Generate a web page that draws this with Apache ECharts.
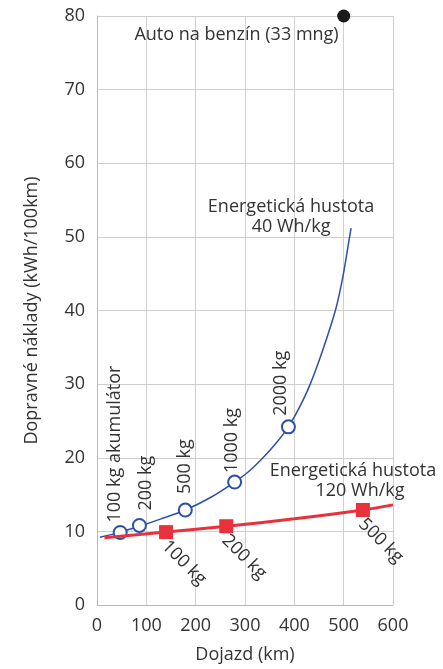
<!DOCTYPE html>
<html>
<head>
<meta charset="utf-8">
<script src="https://cdn.jsdelivr.net/npm/echarts@6/dist/echarts.min.js"></script>
<style>
html,body{margin:0;padding:0;background:#fff;}
#chart{width:443px;height:669px;}
</style>
</head>
<body>
<div id="chart"></div>
<script>
// ---- data ----
const xAxisTitle = 'Dojazd (km)';
const yAxisTitle = 'Dopravné náklady (kWh/100km)';
const xMin = 0, xMax = 600, xStep = 100;
const yMin = 0, yMax = 80, yStep = 10;

// 40 Wh/kg curve
const blueCurveRange = [6, 47, 86, 130, 179, 230, 279, 307, 335, 362, 388, 410, 431, 457, 484, 499, 512, 515];
const blueCurveCost  = [9.2, 9.9, 10.7, 11.7, 12.9, 14.6, 16.7, 18.1, 19.9, 21.9, 24.2, 26.8, 29.8, 34.5, 40.2, 44.8, 50.0, 51.2];
const blueCurveName  = 'Energetická hustota\n40 Wh/kg';
const blueMassLabels = ['100 kg akumulátor', '200 kg', '500 kg', '1000 kg', '2000 kg'];
const blueMassRange  = [47, 86, 179, 279, 388];
const blueMassCost   = [9.85, 10.8, 12.9, 16.7, 24.2];

// 120 Wh/kg curve
const redCurveRange = [15, 140, 262, 400, 539, 600];
const redCurveCost  = [9.15, 9.9, 10.7, 11.7, 12.9, 13.6];
const redCurveName  = ['Energetická hustota', '120 Wh/kg'];
const redMassLabels = ['100 kg', '200 kg', '500 kg'];
const redMassRange  = [140, 262, 539];
const redMassCost   = [9.9, 10.7, 12.9];

// petrol car
const carLabel = 'Auto na benzín (33 mng)';
const carRange = [500];
const carCost  = [80];

// ---- styles ----
const FONT = "'Open Sans', 'Noto Sans', sans-serif";
const TXT = '#333333';
const FS = 18;
const BLUE = '#2f4fa6';
const RED = '#e8313b';
// [lateral px (right +), gap px above circle centre] for the rotated blue labels
const blueLabelNudge = [[-4, 9], [7, 14], [1, 15], [-2, 8], [-7, 10]];
const CIRCLE = 13;

const zip = (a, b) => a.map((v, i) => [v, b[i]]);

const chart = echarts.init(document.getElementById('chart'), null, {renderer: 'canvas'});
chart.setOption({
  animation: false,
  backgroundColor: '#fff',
  textStyle: {fontFamily: FONT, color: TXT},
  grid: {left: 97, right: 50, top: 16, bottom: 60, containLabel: false},
  xAxis: {
    type: 'value', min: xMin, max: xMax, interval: xStep,
    name: xAxisTitle, nameLocation: 'middle', nameGap: 41,
    nameTextStyle: {fontSize: FS, color: TXT, fontFamily: FONT},
    axisLine: {show: true, lineStyle: {color: '#b8b8b8', width: 1}},
    axisTick: {show: false},
    axisLabel: {fontSize: FS, color: TXT, margin: 12, fontFamily: FONT},
    splitLine: {show: true, lineStyle: {color: '#cfcfcf', width: 1}}
  },
  yAxis: {
    type: 'value', min: yMin, max: yMax, interval: yStep,
    name: yAxisTitle, nameLocation: 'middle', nameGap: 56,
    nameTextStyle: {fontSize: FS, color: TXT, fontFamily: FONT},
    axisLine: {show: true, lineStyle: {color: '#b8b8b8', width: 1}},
    axisTick: {show: false},
    axisLabel: {fontSize: FS, color: TXT, margin: 12, fontFamily: FONT},
    splitLine: {show: true, lineStyle: {color: '#cfcfcf', width: 1}}
  },
  series: [
    {
      type: 'line', name: 'blue', data: zip(blueCurveRange, blueCurveCost),
      smooth: 0.3, showSymbol: false, clip: false, z: 3,
      lineStyle: {color: BLUE, width: 1.5},
      markPoint: {
        symbol: 'circle', symbolSize: 0, silent: true,
        data: [{coord: [blueCurveRange[blueCurveRange.length - 1], blueCurveCost[blueCurveCost.length - 1]]}],
        label: {show: true, formatter: blueCurveName, position: 'inside', align: 'center', verticalAlign: 'middle',
          offset: [-60, -11], fontSize: FS, lineHeight: 19.5, color: TXT, fontFamily: FONT}
      }
    },
    {
      type: 'scatter', name: 'blueMass', z: 4,
      data: zip(blueMassRange, blueMassCost).map((v, i) => ({
        value: v,
        label: {position: [CIRCLE / 2 + blueLabelNudge[i][0], CIRCLE / 2 - blueLabelNudge[i][1]]}
      })),
      symbol: 'emptyCircle', symbolSize: CIRCLE,
      itemStyle: {color: BLUE, borderColor: BLUE, borderWidth: 1, opacity: 1},
      label: {show: true, rotate: 90, align: 'left', verticalAlign: 'middle',
        fontSize: FS, color: TXT, fontFamily: FONT,
        formatter: p => blueMassLabels[p.dataIndex]}
    },
    {
      type: 'line', name: 'red', data: zip(redCurveRange, redCurveCost),
      smooth: 0.3, showSymbol: false, clip: false, z: 5,
      lineStyle: {color: RED, width: 3},
      markPoint: {
        symbol: 'circle', symbolSize: 0, silent: true,
        data: [{coord: [redCurveRange[redCurveRange.length - 1], redCurveCost[redCurveCost.length - 1]]}],
        label: {show: true, position: 'inside', align: 'center', verticalAlign: 'middle',
          offset: [-40, -24], color: TXT, fontFamily: FONT,
          formatter: '{a|' + redCurveName[0] + '}\n{b|' + redCurveName[1] + '}',
          rich: {a: {fontSize: FS, color: TXT, fontFamily: FONT, lineHeight: 19.5},
                 b: {fontSize: FS, color: TXT, fontFamily: FONT, lineHeight: 19.5, padding: [0, 0, 0, 14]}}}
      }
    },
    {
      type: 'scatter', name: 'redMass', data: zip(redMassRange, redMassCost), z: 6,
      symbol: 'rect', symbolSize: 14,
      itemStyle: {color: RED, opacity: 1},
      label: {show: true, position: 'inside', rotate: -45, align: 'left', verticalAlign: 'middle',
        offset: [7, 9], fontSize: FS, color: TXT, fontFamily: FONT,
        formatter: p => redMassLabels[p.dataIndex]}
    },
    {
      type: 'scatter', name: 'car', data: zip(carRange, carCost), z: 6, clip: false,
      symbol: 'circle', symbolSize: 13,
      itemStyle: {color: '#1a1a1a', opacity: 1},
      label: {show: true, position: 'inside', align: 'right', verticalAlign: 'middle',
        offset: [-5, 19], fontSize: FS, color: TXT, fontFamily: FONT,
        formatter: carLabel}
    }
  ]
});
</script>
</body>
</html>
